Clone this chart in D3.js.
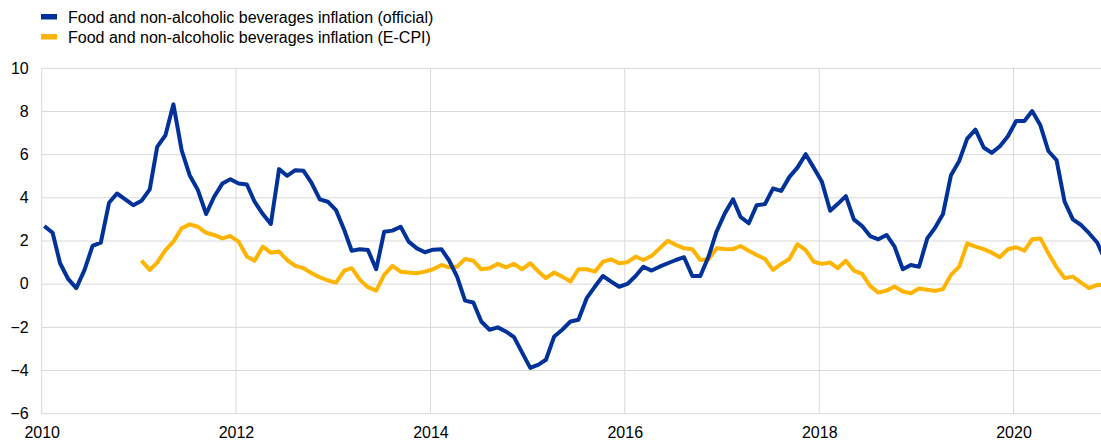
<!DOCTYPE html>
<html>
<head>
<meta charset="utf-8">
<script src="https://cdn.jsdelivr.net/npm/d3@7"></script>
<style>
  body { margin: 0; background: #fff; }
  svg text { font-family: "Liberation Sans", Arial, sans-serif; fill: #000; }
</style>
</head>
<body>
<svg id="vis" width="1101" height="441"></svg>
<script>
// monthly series, Jan 2010 .. Dec 2020
var startYear = 2010;
var seriesNames = ["Food and non-alcoholic beverages inflation (official)",
                   "Food and non-alcoholic beverages inflation (E-CPI)"];
var seriesColors = ["#003299", "#FFB400"];

var official = [
  2.69, 2.38, 0.97, 0.23, -0.18, 0.66, 1.77, 1.92, 3.77, 4.2, 3.93, 3.66,
  3.86, 4.39, 6.36, 6.9, 8.33, 6.2, 5.05, 4.36, 3.25, 4.05, 4.66, 4.86,
  4.66, 4.62, 3.82, 3.25, 2.79, 5.33, 5.02, 5.28, 5.25, 4.69, 3.93, 3.82,
  3.43, 2.51, 1.55, 1.62, 1.58, 0.69, 2.43, 2.48, 2.66, 1.97, 1.66, 1.48,
  1.6, 1.62, 1.12, 0.35, -0.76, -0.85, -1.73, -2.11, -2.0, -2.19, -2.45, -3.16,
  -3.88, -3.73, -3.5, -2.42, -2.11, -1.73, -1.65, -0.65, -0.11, 0.38, 0.12, -0.12,
  0.01, 0.38, 0.81, 0.63, 0.81, 0.97, 1.12, 1.25, 0.38, 0.38, 1.28, 2.43,
  3.28, 3.93, 3.12, 2.82, 3.66, 3.71, 4.43, 4.32, 4.97, 5.4, 6.02, 5.4,
  4.74, 3.4, 3.71, 4.08, 3.0, 2.69, 2.23, 2.08, 2.28, 1.74, 0.69, 0.89,
  0.81, 2.12, 2.59, 3.25, 5.05, 5.71, 6.74, 7.16, 6.33, 6.08, 6.39, 6.85,
  7.56, 7.56, 8.02, 7.36, 6.17, 5.74, 3.82, 3.0, 2.74, 2.36, 1.92, 1.1
];

// E-CPI starts Jan 2011
var ecpiStart = 12;
var ecpi = [
  1.09, 0.66, 1.0, 1.58, 1.97, 2.59, 2.77, 2.66, 2.38, 2.28, 2.12, 2.23,
  1.97, 1.28, 1.09, 1.74, 1.46, 1.51, 1.12, 0.85, 0.74, 0.51, 0.32, 0.17,
  0.07, 0.63, 0.74, 0.2, -0.14, -0.3, 0.43, 0.85, 0.58, 0.54, 0.51, 0.58,
  0.69, 0.89, 0.78, 0.81, 1.17, 1.09, 0.69, 0.74, 0.94, 0.78, 0.94, 0.69,
  0.97, 0.58, 0.28, 0.54, 0.35, 0.12, 0.69, 0.69, 0.58, 1.04, 1.15, 0.97,
  1.02, 1.28, 1.12, 1.31, 1.66, 2.01, 1.82, 1.66, 1.62, 1.12, 1.15, 1.66,
  1.63, 1.62, 1.77, 1.55, 1.35, 1.17, 0.66, 0.94, 1.17, 1.85, 1.58, 1.04,
  0.94, 1.0, 0.74, 1.08, 0.63, 0.48, -0.08, -0.39, -0.3, -0.11, -0.34, -0.42,
  -0.2, -0.26, -0.31, -0.23, 0.43, 0.81, 1.89, 1.74, 1.62, 1.46, 1.25, 1.62,
  1.71, 1.55, 2.08, 2.12, 1.43, 0.78, 0.28, 0.35, 0.07, -0.18, -0.03, -0.05
];

var yTicks = [-6, -4, -2, 0, 2, 4, 6, 8, 10];
var xTickYears = [2010, 2012, 2014, 2016, 2018, 2020];

var svg = d3.select("#vis");
var plotLeft = 41.7, plotTop = 68.3, plotBottom = 413.7;
var pxPerYear = 97.2;

var x = d3.scaleTime()
    .domain([new Date(2010, 0, 1), new Date(2021, 0, 1)])
    .range([plotLeft, plotLeft + 11 * pxPerYear]);
var y = d3.scaleLinear().domain([-6, 10]).range([plotBottom, plotTop]);

function toDate(i) {
    return new Date(startYear + Math.floor(i / 12), i % 12, 11);
}

// grid
var grid = svg.append("g").attr("class", "grid");
grid.selectAll("line.h")
    .data(yTicks)
    .enter().append("line")
    .attr("class", "h")
    .attr("x1", plotLeft).attr("x2", 1101)
    .attr("y1", d => y(d)).attr("y2", d => y(d))
    .attr("stroke", "#d9d9d9").attr("stroke-width", 1);
grid.selectAll("line.v")
    .data(xTickYears)
    .enter().append("line")
    .attr("class", "v")
    .attr("x1", d => x(new Date(d, 0, 1))).attr("x2", d => x(new Date(d, 0, 1)))
    .attr("y1", plotTop).attr("y2", plotBottom)
    .attr("stroke", "#d9d9d9").attr("stroke-width", 1);

// axes (labels only)
var yAxis = svg.append("g")
    .attr("transform", "translate(" + plotLeft + ",0)")
    .call(d3.axisLeft(y).tickValues(yTicks).tickSize(0).tickPadding(13));
yAxis.select(".domain").remove();
yAxis.selectAll("text").style("font-size", "16px").attr("dy", "0.3em");

var xAxis = svg.append("g")
    .attr("transform", "translate(0," + plotBottom + ")")
    .call(d3.axisBottom(x)
        .tickValues(xTickYears.map(d => new Date(d, 0, 1)))
        .tickFormat(d3.timeFormat("%Y"))
        .tickSize(0).tickPadding(13));
xAxis.select(".domain").remove();
xAxis.selectAll("text").style("font-size", "16px");

// lines
var line = d3.line()
    .x(d => x(d.date))
    .y(d => y(d.value));

var officialData = official.map((v, i) => ({date: toDate(i), value: v}));
var ecpiData = ecpi.map((v, i) => ({date: toDate(i + ecpiStart), value: v}));

svg.append("path")
    .datum(ecpiData)
    .attr("d", line)
    .attr("fill", "none")
    .attr("stroke", seriesColors[1])
    .attr("stroke-width", 4)
    .attr("stroke-linejoin", "round");

svg.append("path")
    .datum(officialData)
    .attr("d", line)
    .attr("fill", "none")
    .attr("stroke", seriesColors[0])
    .attr("stroke-width", 4)
    .attr("stroke-linejoin", "round");

// legend
var legend = svg.selectAll("g.legend")
    .data(seriesNames)
    .enter().append("g")
    .attr("class", "legend")
    .attr("transform", (d, i) => "translate(41," + (17 + i * 20) + ")");
legend.append("rect")
    .attr("x", 0).attr("y", -3)
    .attr("width", 16).attr("height", 5.5)
    .attr("fill", (d, i) => seriesColors[i]);
legend.append("text")
    .attr("x", 27).attr("y", 6.3)
    .style("font-size", "16px")
    .text(d => d);
</script>
</body>
</html>
